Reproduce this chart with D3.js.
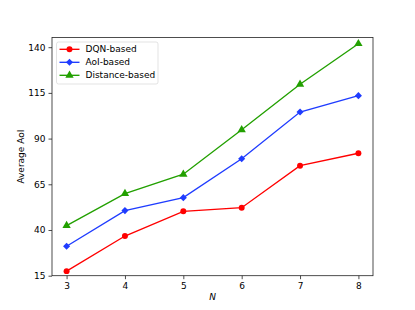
<!DOCTYPE html>
<html>
<head>
<meta charset="utf-8">
<script src="https://cdn.jsdelivr.net/npm/d3@7"></script>
<style>
  body { margin: 0; background: #fff; }
  text { font-family: "DejaVu Sans", sans-serif; }
</style>
</head>
<body>
<svg id="chart" width="415" height="310"></svg>
<script>
// values
const nValues = [3, 4, 5, 6, 7, 8];
const dqnBased = [17.5, 36.7, 50.2, 52.2, 75.2, 82.0];
const aoiBased = [31.1, 50.6, 57.7, 79.0, 104.5, 113.5];
const distanceBased = [42.4, 59.9, 70.5, 94.8, 119.7, 141.9];
const yTicks = [15, 40, 65, 90, 115, 140];

const series = [
  { name: 'DQN-based', values: dqnBased, color: '#ff0000', marker: 'circle' },
  { name: 'AoI-based', values: aoiBased, color: '#1f3cff', marker: 'diamond' },
  { name: 'Distance-based', values: distanceBased, color: '#22a000', marker: 'triangle' },
];

const margin = { top: 37.5, right: 42, bottom: 34.3, left: 52 };
const width = 415, height = 310;

const svg = d3.select('#chart');

const x = d3.scaleLinear()
  .domain([2.75, 8.25])
  .range([margin.left, width - margin.right]);

const y = d3.scaleLinear()
  .domain([15, 145.3])
  .range([height - margin.bottom, margin.top]);

// axes
const xAxis = svg.append('g')
  .attr('transform', `translate(0,${height - margin.bottom})`)
  .call(d3.axisBottom(x).tickValues(nValues).tickFormat(d3.format('d')).tickSize(3.5).tickPadding(3));

const yAxis = svg.append('g')
  .attr('transform', `translate(${margin.left},0)`)
  .call(d3.axisLeft(y).tickValues(yTicks).tickSize(3.5).tickPadding(3));

[xAxis, yAxis].forEach(a => {
  a.select('.domain').remove();
  a.selectAll('text').attr('font-size', 9).attr('fill', '#000');
  a.selectAll('line').attr('stroke', '#000').attr('stroke-width', 0.7);
});

// frame
svg.append('rect')
  .attr('x', margin.left)
  .attr('y', margin.top)
  .attr('width', width - margin.left - margin.right)
  .attr('height', height - margin.top - margin.bottom)
  .attr('fill', 'none')
  .attr('stroke', '#222')
  .attr('stroke-width', 0.8);

// matplotlib-like markers: 'o', 'D' (square turned 45 deg), '^'
const symbols = {
  circle: { d: d3.symbol().type(d3.symbolCircle).size(28)(), rot: 0 },
  diamond: { d: d3.symbol().type(d3.symbolSquare).size(25)(), rot: 45 },
  triangle: { d: d3.symbol().type(d3.symbolTriangle).size(30)(), rot: 0 },
};

const line = d3.line()
  .x((d, i) => x(nValues[i]))
  .y(d => y(d));

series.forEach(s => {
  svg.append('path')
    .datum(s.values)
    .attr('fill', 'none')
    .attr('stroke', s.color)
    .attr('stroke-width', 1.35)
    .attr('d', line);

  svg.append('g')
    .selectAll('path')
    .data(s.values)
    .join('path')
    .attr('transform', (d, i) => `translate(${x(nValues[i])},${y(d)}) rotate(${symbols[s.marker].rot})`)
    .attr('d', symbols[s.marker].d)
    .attr('fill', s.color);
});

// axis labels
svg.append('text')
  .attr('x', (margin.left + width - margin.right) / 2)
  .attr('y', 300)
  .attr('text-anchor', 'middle')
  .attr('font-size', 9)
  .attr('font-style', 'italic')
  .text('N');

svg.append('text')
  .attr('transform', `translate(24,${(margin.top + height - margin.bottom) / 2}) rotate(-90)`)
  .attr('text-anchor', 'middle')
  .attr('font-size', 9)
  .text('Average AoI');

// legend
const legend = svg.append('g').attr('transform', 'translate(56.5,42)');
legend.append('rect')
  .attr('width', 101.5)
  .attr('height', 42)
  .attr('rx', 2)
  .attr('fill', '#fff')
  .attr('fill-opacity', 0.8)
  .attr('stroke', '#d0d0d0')
  .attr('stroke-width', 0.6);

series.forEach((s, i) => {
  const g = legend.append('g').attr('transform', `translate(0,${7.3 + i * 13})`);
  g.append('line')
    .attr('x1', 3).attr('x2', 23)
    .attr('stroke', s.color)
    .attr('stroke-width', 1.35);
  g.append('path')
    .attr('transform', `translate(13,0) rotate(${symbols[s.marker].rot})`)
    .attr('d', symbols[s.marker].d)
    .attr('fill', s.color);
  g.append('text')
    .attr('x', 29)
    .attr('dy', '0.35em')
    .attr('font-size', 9)
    .text(s.name);
});
</script>
</body>
</html>
